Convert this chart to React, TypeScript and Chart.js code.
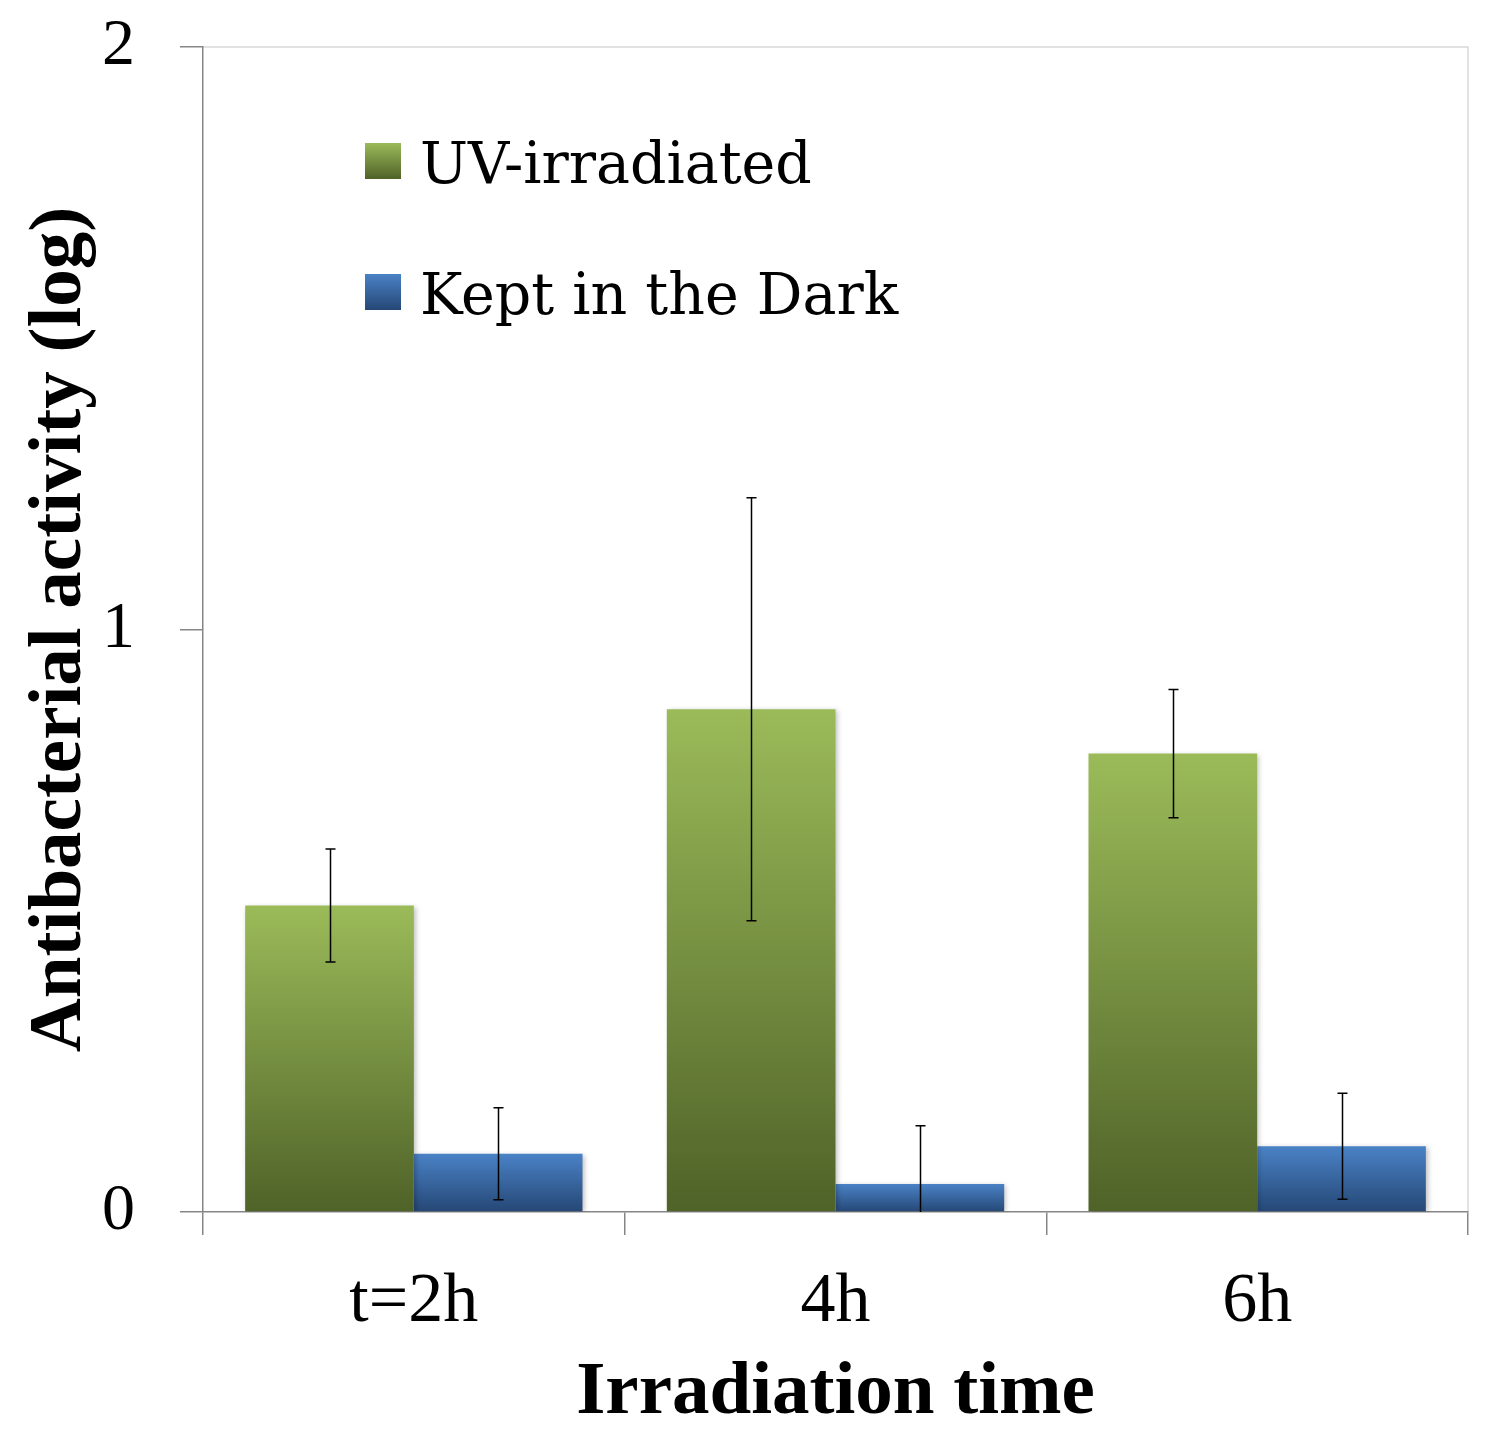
import React, { useEffect, useRef } from "react";
import { Chart, registerables } from "chart.js";

Chart.register(...registerables);

// values
const categories = ["t=2h", "4h", "6h"];
const seriesNames = ["UV-irradiated", "Kept in the Dark"];
const uvValues = [0.526, 0.863, 0.787];
const uvErrors = [0.097, 0.363, 0.11];
const darkValues = [0.1, 0.048, 0.113];
const darkErrors = [0.079, 0.1, 0.091];
const yTicks = [0, 1, 2];

const FONT = "'Liberation Serif', 'Times New Roman', serif";
const LEGEND_FONT = "'DejaVu Serif', serif";
const greenStops = ["#9BBB59", "#4F6228"];
const blueStops = ["#4A82C6", "#254775"];

// vertical gradient over the height of each bar
const barGradient = (stops: string[]) => (ctx: any) => {
  const chart = ctx.chart;
  const y = chart.scales && chart.scales.y;
  if (!y || ctx.type !== "data") return stops[1];
  const top = y.getPixelForValue(ctx.raw as number);
  const base = y.getPixelForValue(0);
  if (!isFinite(top) || !isFinite(base) || top === base) return stops[1];
  const g = chart.ctx.createLinearGradient(0, top, 0, base);
  g.addColorStop(0, stops[0]);
  g.addColorStop(1, stops[1]);
  return g;
};

const framePlugin = {
  id: "frame",
  beforeDraw(chart: any) {
    const { ctx, chartArea } = chart;
    ctx.save();
    ctx.strokeStyle = "#D9D9D9";
    ctx.lineWidth = 1.5;
    ctx.beginPath();
    ctx.moveTo(chartArea.left, chartArea.top);
    ctx.lineTo(chartArea.right, chartArea.top);
    ctx.lineTo(chartArea.right, chartArea.bottom);
    ctx.stroke();
    ctx.restore();
  },
};

const shadowPlugin = {
  id: "barShadow",
  beforeDatasetsDraw(chart: any) {
    const ctx = chart.ctx;
    ctx.save();
    ctx.shadowColor = "rgba(0,0,0,0.25)";
    ctx.shadowBlur = 5;
    ctx.shadowOffsetX = 2;
    ctx.shadowOffsetY = 1;
  },
  afterDatasetsDraw(chart: any) {
    chart.ctx.restore();
  },
};

const errorBarPlugin = {
  id: "errorBars",
  afterDatasetsDraw(chart: any) {
    const { ctx, chartArea } = chart;
    const y = chart.scales.y;
    ctx.save();
    ctx.beginPath();
    ctx.rect(chartArea.left, chartArea.top - 10, chartArea.width, chartArea.height + 10);
    ctx.clip();
    ctx.strokeStyle = "#000";
    ctx.lineWidth = 1.5;
    [uvErrors, darkErrors].forEach((errs, di) => {
      const meta = chart.getDatasetMeta(di);
      meta.data.forEach((bar: any, i: number) => {
        const v = chart.data.datasets[di].data[i] as number;
        const hi = y.getPixelForValue(v + errs[i]);
        const lo = y.getPixelForValue(v - errs[i]);
        const x = Math.round(bar.x) + 0.5;
        ctx.beginPath();
        ctx.moveTo(x, hi);
        ctx.lineTo(x, lo);
        ctx.moveTo(x - 5, hi);
        ctx.lineTo(x + 5, hi);
        ctx.moveTo(x - 5, lo);
        ctx.lineTo(x + 5, lo);
        ctx.stroke();
      });
    });
    ctx.restore();
  },
};

const legendPlugin = {
  id: "insideLegend",
  afterDraw(chart: any) {
    const { ctx, chartArea } = chart;
    const x0 = chartArea.left + 162;
    const y0 = chartArea.top + 96;
    const gap = 131;
    const box = 36;
    [greenStops, blueStops].forEach((stops, i) => {
      const top = y0 + i * gap;
      const g = ctx.createLinearGradient(0, top, 0, top + box);
      g.addColorStop(0, stops[0]);
      g.addColorStop(1, stops[1]);
      ctx.save();
      ctx.fillStyle = g;
      ctx.fillRect(x0, top, box, box);
      ctx.fillStyle = "#000";
      ctx.font = `57px ${LEGEND_FONT}`;
      ctx.textBaseline = "alphabetic";
      ctx.textAlign = "left";
      ctx.fillText(seriesNames[i], x0 + 55, top + 40);
      ctx.restore();
    });
  },
};

const App: React.FC = () => {
  const canvasRef = useRef<HTMLCanvasElement | null>(null);
  const chartRef = useRef<Chart | null>(null);

  useEffect(() => {
    if (chartRef.current) chartRef.current.destroy();
    if (!canvasRef.current) return;

    chartRef.current = new Chart(canvasRef.current, {
      type: "bar",
      data: {
        labels: categories,
        datasets: [
          {
            label: seriesNames[0],
            data: uvValues,
            backgroundColor: barGradient(greenStops),
            borderWidth: 0,
            categoryPercentage: 0.8,
            barPercentage: 1.0,
          },
          {
            label: seriesNames[1],
            data: darkValues,
            backgroundColor: barGradient(blueStops),
            borderWidth: 0,
            categoryPercentage: 0.8,
            barPercentage: 1.0,
          },
        ],
      },
      options: {
        animation: false,
        responsive: true,
        maintainAspectRatio: false,
        layout: { padding: { top: 0, right: 12, left: 0, bottom: 0 } },
        plugins: {
          legend: { display: false },
          tooltip: { enabled: false },
        },
        scales: {
          x: {
            grid: {
              offset: true,
              drawOnChartArea: false,
              tickLength: 23,
              color: "#868686",
              lineWidth: 1.5,
            },
            border: { color: "#868686", width: 1.5 },
            ticks: {
              color: "#000",
              font: { family: FONT, size: 70 },
              padding: 26,
            },
            title: {
              display: true,
              text: "Irradiation time",
              color: "#000",
              font: { family: FONT, size: 75, weight: "bold", lineHeight: 0.85 },
              padding: { top: 0, bottom: 0 },
            },
            afterFit(scale: any) {
              scale.height = 213;
            },
          },
          y: {
            min: 0,
            max: 2,
            afterBuildTicks(scale: any) {
              scale.ticks = yTicks.map((v) => ({ value: v }));
            },
            grid: {
              drawOnChartArea: false,
              tickLength: 23,
              color: "#868686",
              lineWidth: 1.5,
            },
            border: { color: "#868686", width: 1.5 },
            ticks: {
              color: "#000",
              font: { family: FONT, size: 66 },
              padding: 45,
            },
            title: {
              display: true,
              text: "Antibacterial activity (log)",
              color: "#000",
              font: { family: FONT, size: 75, weight: "bold" },
              padding: { top: 8, bottom: 0 },
            },
            afterFit(scale: any) {
              scale.width = 195;
              scale.paddingTop = 39;
              scale.paddingBottom = 0;
            },
          },
        },
      },
      plugins: [framePlugin, shadowPlugin, errorBarPlugin, legendPlugin],
    });

    return () => {
      if (chartRef.current) {
        chartRef.current.destroy();
        chartRef.current = null;
      }
    };
  }, []);

  return (
    <div style={{ position: "relative", width: "100%", height: 1417 }}>
      <canvas ref={canvasRef}></canvas>
    </div>
  );
};

export default App;
